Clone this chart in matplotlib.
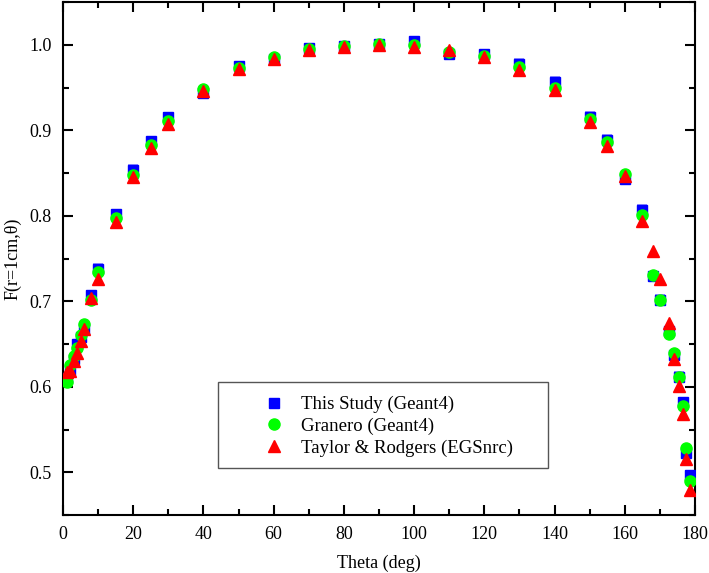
import matplotlib
matplotlib.use("Agg")
import matplotlib.pyplot as plt
from matplotlib.patches import Rectangle
from matplotlib.ticker import MultipleLocator, FormatStrFormatter

plt.rcParams['font.family'] = ['Liberation Serif', 'DejaVu Serif']

# angles (deg)
theta = [1, 2, 3, 4, 5, 6, 8, 10, 15, 20, 25, 30, 40, 50, 60, 70, 80, 90,
         100, 110, 120, 130, 140, 150, 155, 160, 165, 168, 170, 172.5, 174,
         175.5, 176.5, 177.5, 178.5]

this_study = [0.610, 0.620, 0.632, 0.650, 0.658, 0.668, 0.707, 0.738, 0.802, 0.854,
              0.887, 0.915, 0.943, 0.975, 0.983, 0.996, 0.998, 1.001,
              1.004, 0.989, 0.989, 0.978, 0.957, 0.916, 0.889, 0.843, 0.807, 0.729,
              0.702, 0.665, 0.637, 0.612, 0.582, 0.522, 0.497]
this_err = [0.005] * len(theta)

granero = [0.606, 0.625, 0.636, 0.645, 0.660, 0.673, 0.702, 0.734, 0.797, 0.848,
           0.883, 0.911, 0.948, 0.973, 0.986, 0.995, 0.999, 1.001,
           1.000, 0.992, 0.987, 0.974, 0.950, 0.913, 0.886, 0.849, 0.801, 0.731,
           0.701, 0.662, 0.640, 0.612, 0.577, 0.528, 0.490]

taylor = [0.617, 0.618, 0.630, 0.640, 0.653, 0.667, 0.704, 0.726, 0.793, 0.845,
          0.879, 0.907, 0.946, 0.972, 0.983, 0.994, 0.997, 1.000,
          0.997, 0.994, 0.986, 0.970, 0.947, 0.910, 0.882, 0.846, 0.794, 0.759,
          0.726, 0.674, 0.633, 0.601, 0.568, 0.516, 0.479]

labels = ['This Study (Geant4)', 'Granero (Geant4)', 'Taylor & Rodgers (EGSnrc)']

fig = plt.figure(figsize=(7.09, 5.73), dpi=100)
ax = fig.add_axes([0.0889, 0.1012, 0.8913, 0.8953])

ax.errorbar(theta, this_study, yerr=this_err, fmt='none',
            ecolor='#8c8cff', elinewidth=1.2, capsize=3.5, capthick=1.2, zorder=3)
h1, = ax.plot(theta, this_study, 's', color='#0000ff', ms=6.5, zorder=3)
h2, = ax.plot(theta, granero, 'o', color='#00ff00', ms=8, zorder=4)
h3, = ax.plot(theta, taylor, '^', color='#ff0000', ms=8.5, zorder=5)

ax.set_xlim(0, 180)
ax.set_ylim(0.45, 1.05)
ax.xaxis.set_major_locator(MultipleLocator(20))
ax.xaxis.set_minor_locator(MultipleLocator(10))
ax.yaxis.set_major_locator(MultipleLocator(0.1))
ax.yaxis.set_minor_locator(MultipleLocator(0.05))
ax.yaxis.set_major_formatter(FormatStrFormatter('%.1f'))

ax.tick_params(which='both', direction='in', top=True, right=True,
               labelsize=13, width=1.5)
ax.tick_params(which='major', length=7.5, pad=8)
ax.tick_params(which='minor', length=4.3)
for s in ax.spines.values():
    s.set_linewidth(1.5)

ax.set_xlabel('Theta (deg)', fontsize=13, labelpad=8)
ax.set_ylabel('F(r=1cm,θ)', fontsize=13, labelpad=6)

# legend frame drawn by hand, larger than its content
ax.add_patch(Rectangle((0.245, 0.0916), 0.522, 0.168, transform=ax.transAxes,
                       fill=False, edgecolor='#555555', linewidth=1.0, zorder=6))
ax.legend([h1, h2, h3], labels, loc='upper left', bbox_to_anchor=(0.2927, 0.265),
          frameon=False, fontsize=13.5, numpoints=1, handlelength=1.0,
          handletextpad=0.95, labelspacing=0.24)

fig.savefig('out.png', dpi=100)
